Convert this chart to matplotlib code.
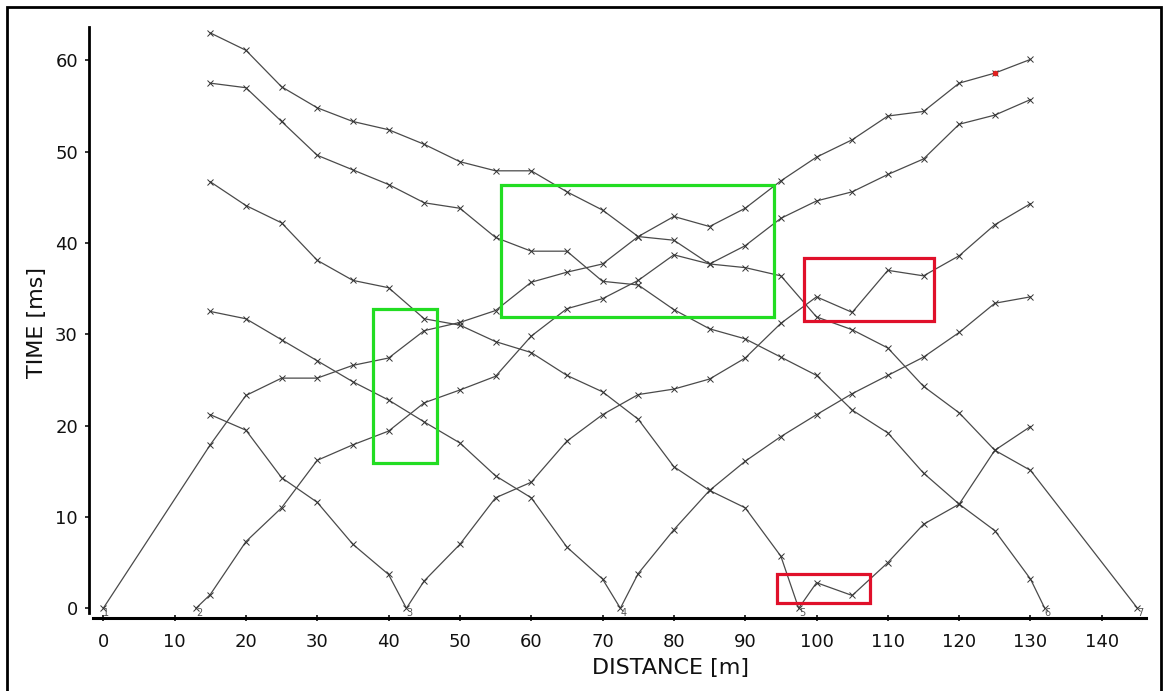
import matplotlib.pyplot as plt
from matplotlib.patches import Rectangle

# geophone positions [m]
geophones = [15, 20, 25, 30, 35, 40, 45, 50, 55, 60, 65, 70,
             75, 80, 85, 90, 95, 100, 105, 110, 115, 120, 125, 130]

# shot points [m] and their numbers
shot_pos = [0, 13, 42.5, 72.5, 97.5, 132, 145]
shot_names = ['1', '2', '3', '4', '5', '6', '7']

# first-break picks [ms] per shot, one value per geophone
t_shot1 = [17.9, 23.3, 25.2, 25.2, 26.6, 27.4, 30.4, 31.3, 32.6, 35.7, 36.8, 37.7,
           40.7, 42.9, 41.8, 43.8, 46.8, 49.4, 51.3, 53.9, 54.4, 57.5, 58.6, 60.1]
t_shot2 = [1.5, 7.3, 11.0, 16.2, 17.9, 19.4, 22.5, 23.9, 25.4, 29.8, 32.8, 33.9,
           35.9, 38.7, 37.7, 39.7, 42.7, 44.6, 45.6, 47.5, 49.2, 53.0, 54.0, 55.7]
t_shot3 = [21.2, 19.5, 14.3, 11.6, 7.0, 3.7, 3.0, 7.0, 12.1, 13.8, 18.3, 21.2,
           23.4, 24.0, 25.1, 27.4, 31.2, 34.1, 32.4, 37.0, 36.4, 38.6, 42.0, 44.3]
t_shot4 = [32.5, 31.7, 29.4, 27.1, 24.8, 22.8, 20.4, 18.1, 14.5, 12.1, 6.7, 3.2,
           3.8, 8.6, 12.9, 16.1, 18.8, 21.2, 23.5, 25.5, 27.5, 30.2, 33.4, 34.1]
t_shot5 = [46.7, 44.1, 42.2, 38.1, 35.9, 35.1, 31.7, 31.0, 29.2, 28.0, 25.5, 23.7,
           20.7, 15.5, 12.9, 11.0, 5.7, 2.8, 1.4, 5.0, 9.2, 11.4, 17.3, 19.9]
t_shot6 = [57.5, 57.0, 53.3, 49.6, 48.0, 46.4, 44.4, 43.8, 40.6, 39.1, 39.1, 35.8,
           35.4, 32.7, 30.6, 29.5, 27.5, 25.5, 21.7, 19.2, 14.8, 11.4, 8.5, 3.2]
t_shot7 = [63.0, 61.1, 57.1, 54.8, 53.3, 52.4, 50.8, 48.9, 47.9, 47.9, 45.6, 43.6,
           40.7, 40.3, 37.7, 37.3, 36.4, 31.9, 30.5, 28.5, 24.3, 21.4, 17.3, 15.1]
times = [t_shot1, t_shot2, t_shot3, t_shot4, t_shot5, t_shot6, t_shot7]

# selected pick (shot 1, geophone at 125 m)
sel_shot, sel_geo = 0, 125

# marked zones: (x0, x1, t0, t1)
green_zones = [(37.8, 46.85, 15.9, 32.8), (55.7, 94.1, 31.9, 46.3)]
red_zones = [(98.3, 116.5, 31.4, 38.3), (94.5, 107.5, 0.6, 3.7)]

fig = plt.figure(figsize=(11.68, 6.91), dpi=100)
ax = fig.add_axes([0.0762, 0.1052, 0.9050, 0.8551])

for xs0, name, ts in zip(shot_pos, shot_names, times):
    pts = sorted(list(zip(geophones, ts)) + [(xs0, 0.0)])
    xs = [p[0] for p in pts]
    ys = [p[1] for p in pts]
    ax.plot(xs, ys, color='#4a4a4a', lw=0.9, marker='x', ms=4, mew=0.7,
            mec='#333333', zorder=3)
    ax.text(xs0, -0.55, name, fontsize=7, color='#555555', ha='left',
            va='center', zorder=4)

ax.plot(sel_geo, times[sel_shot][geophones.index(sel_geo)], 'o',
        color='#e0201f', ms=3, zorder=5)

for x0, x1, y0, y1 in green_zones:
    ax.add_patch(Rectangle((x0, y0), x1 - x0, y1 - y0, fill=False,
                           ec='#22dd22', lw=2.3, zorder=6))
for x0, x1, y0, y1 in red_zones:
    ax.add_patch(Rectangle((x0, y0), x1 - x0, y1 - y0, fill=False,
                           ec='#e0102a', lw=2.3, zorder=6))

ax.set_xlim(-2, 146.2)
ax.set_ylim(-1.1, 63.6)
ax.set_xticks(range(0, 150, 10))
ax.set_yticks(range(0, 70, 10))

for s in ['top', 'right']:
    ax.spines[s].set_visible(False)
ax.spines['left'].set_linewidth(2)
ax.spines['bottom'].set_linewidth(2.2)
ax.spines['left'].set_bounds(-0.5, 63.6)
ax.spines['bottom'].set_bounds(-1.4, 146.2)

ax.tick_params(axis='y', direction='out', length=3, width=1.2, pad=5,
               labelsize=13, colors='#111111')
ax.tick_params(axis='x', direction='inout', length=5, width=1.2, pad=8,
               labelsize=13, colors='#111111')

ax.set_xlabel('DISTANCE [m]', fontsize=16, color='#111111')
ax.set_ylabel('TIME [ms]', fontsize=16, color='#111111')
ax.xaxis.set_label_coords(0.55, -0.084)
ax.yaxis.set_label_coords(-0.0495, 0.5)
ax.xaxis.label.set_va('center')
ax.yaxis.label.set_va('center')

# frame round the whole figure
fig.patches.append(Rectangle((0.006, -0.02), 0.988, 1.0099, transform=fig.transFigure,
                             fill=False, ec='black', lw=2, zorder=10))

fig.savefig('out.png', dpi=100)
